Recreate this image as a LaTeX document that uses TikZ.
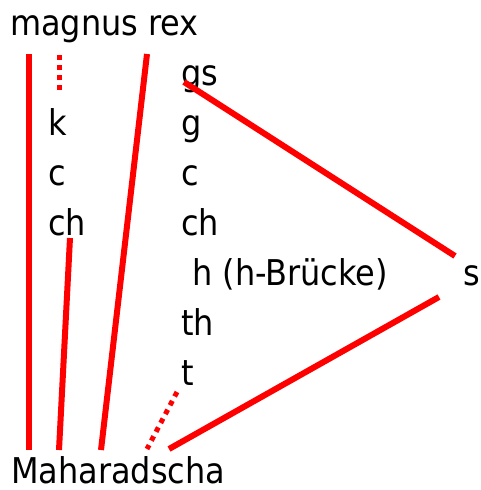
\documentclass[tikz,border=0pt]{standalone}
\usepackage{fontspec}
\setmainfont{DejaVu Sans Condensed}
\begin{document}
\begin{tikzpicture}[x=1pt,y=-1pt,
  lbl/.style={inner sep=0pt,anchor=base west,font=\fontsize{35.5}{40}\selectfont},
  link/.style={draw=red,line width=6pt},
  dotlink/.style={draw=red,line width=5pt,dash pattern=on 5pt off 5pt}]
\useasboundingbox (0,0) rectangle (480,490);
\node[lbl] (mr) at (10,35) {magnus rex};
\node[lbl] (k) at (48,135) {k};
\node[lbl] (c1) at (48,185) {c};
\node[lbl] (ch1) at (48,235) {ch};
\node[lbl] (gs) at (181,85) {gs};
\node[lbl] (g) at (181,135) {g};
\node[lbl] (c2) at (181,185) {c};
\node[lbl] (ch2) at (181,235) {ch};
\node[lbl] (h) at (192,285) {h (h-Brücke)};
\node[lbl] (th) at (181,335) {th};
\node[lbl] (t) at (181,385) {t};
\node[lbl] (s) at (463,285) {s};
\node[lbl] (mah) at (11,483) {Maharadscha};
% endpoints
\coordinate (a1) at (29,54);   \coordinate (a2) at (29,450);
\coordinate (b1) at (59,55);   \coordinate (b2) at (59,92);
\coordinate (c1a) at (147,54); \coordinate (c2a) at (101,450);
\coordinate (d1) at (70,238);  \coordinate (d2) at (59,450);
\coordinate (e1) at (184,82);  \coordinate (e2) at (455,256);
\coordinate (f1) at (439,297); \coordinate (f2) at (169,449);
\coordinate (g1) at (177,392); \coordinate (g2) at (147,449);
\draw[link] (a1) -- (a2);
\draw[dotlink] (b1) -- (b2);
\draw[link] (c1a) -- (c2a);
\draw[link] (d1) -- (d2);
\draw[link] (e1) -- (e2);
\draw[link] (f1) -- (f2);
\draw[dotlink] (g1) -- (g2);
\end{tikzpicture}
\end{document}
